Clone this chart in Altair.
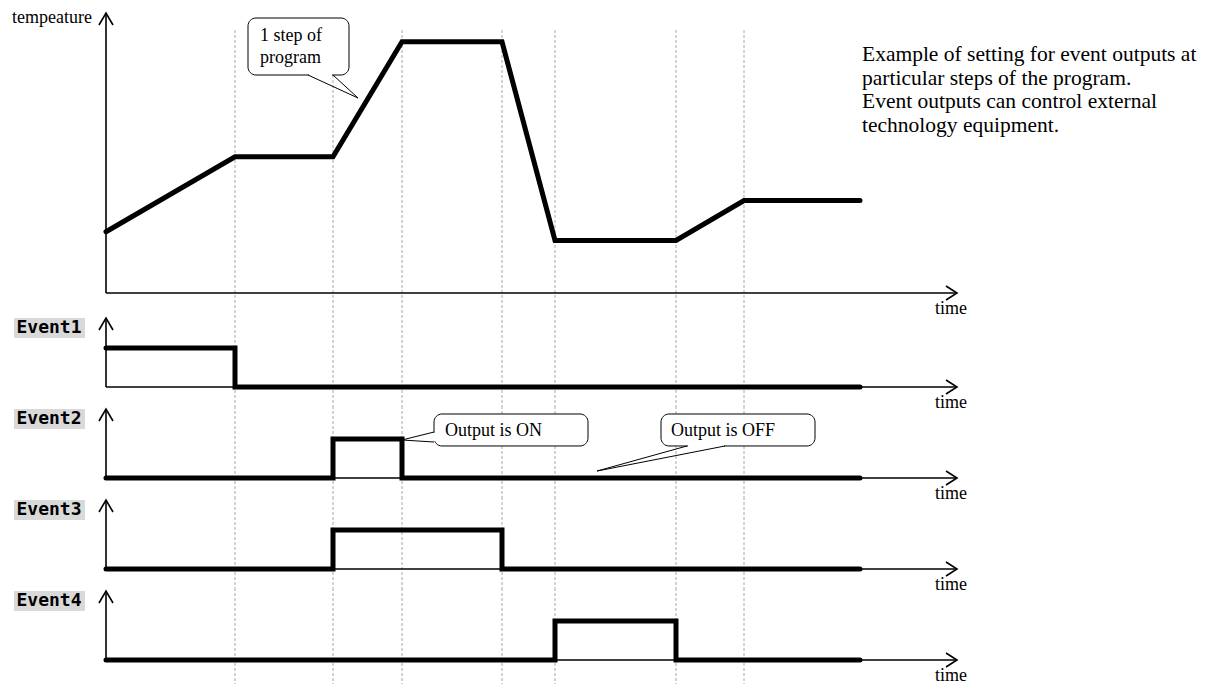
import altair as alt
import pandas as pd

# ---------------- data ----------------
step_times = [0, 12.9, 22.7, 29.6, 39.6, 44.9, 57.0, 63.8, 75.4]      # step boundaries (time units)
temperature = [24.5, 54.5, 54.5, 100.5, 100.5, 21, 21, 37, 37]        # program set-point at each boundary
event_names = ["Event1", "Event2", "Event3", "Event4"]
event_states = {
    "Event1": [1, 0, 0, 0, 0, 0, 0, 0],
    "Event2": [0, 0, 1, 0, 0, 0, 0, 0],
    "Event3": [0, 0, 1, 1, 0, 0, 0, 0],
    "Event4": [0, 0, 0, 0, 0, 1, 0, 0],
}
y_title = "tempeature"
x_title = "time"
note_lines = [
    "Example of setting for event outputs at",
    "particular steps of the program.",
    "Event outputs can control external",
    "technology equipment.",
]
callout_step = ["1 step of", "program"]
callout_on = "Output is ON"
callout_off = "Output is OFF"

# ---------------- layout ----------------
W = 1195
X_DOM = [-9.8, 109.7]
T_END = 85.1
MAIN_H = 307
MAIN_DOM = [-8.8, 114.0]
EV_H = 91
EV_DOM = [-0.487, 1.846]
EV_LAST_H = 96
EV_LAST_DOM = [-0.615, 1.846]
SERIF = "Liberation Serif"
MONO = "DejaVu Sans Mono"
GRID_C = "#a8a8a8"


def X(f):
    return alt.X(f, type="quantitative", scale=alt.Scale(domain=X_DOM, nice=False, zero=False), axis=None)


def Y(f, dom):
    return alt.Y(f, type="quantitative", scale=alt.Scale(domain=dom, nice=False, zero=False), axis=None)


def polylines(segs):
    rows = []
    for s, pts in enumerate(segs):
        for i, (t, y) in enumerate(pts):
            rows.append({"seg": s, "i": i, "t": t, "y": y})
    return pd.DataFrame(rows)


def line_layer(df, dom, width, color="black", dash=None, interp=None, cap="butt"):
    kw = dict(color=color, strokeWidth=width, strokeCap=cap)
    if dash:
        kw["strokeDash"] = dash
    if interp:
        kw["interpolate"] = interp
    return alt.Chart(df).mark_line(**kw).encode(
        x=X("t"), y=Y("y", dom), detail="seg:N", order="i:Q")


def text_layer(df, dom, size=18, font=SERIF, align="left", baseline="alphabetic", weight="normal"):
    return alt.Chart(df).mark_text(align=align, baseline=baseline, font=font, fontSize=size,
                                   fontWeight=weight, color="black").encode(
        x=X("t"), y=Y("y", dom), text="txt:N")


def box_layer(t1, t2, y1, y2, dom):
    df = pd.DataFrame({"t": [t1], "t2": [t2], "y": [y1], "y2": [y2]})
    return alt.Chart(df).mark_rect(cornerRadius=8, fill="white", stroke="black", strokeWidth=1).encode(
        x=X("t"), x2="t2", y=Y("y", dom), y2="y2")


def grid_layer(top, dom):
    df = pd.DataFrame({"t": step_times[1:-1], "y1": top, "y2": dom[0]})
    return alt.Chart(df).mark_rule(color=GRID_C, strokeDash=[3, 2], strokeWidth=1).encode(
        x=X("t"), y=Y("y1", dom), y2="y2")


# ---------------- main panel ----------------
dom = MAIN_DOM
axes_main = polylines([
    [(0, 0), (0, 112)],
    [(-0.7, 107.2), (0, 112), (0.7, 107.2)],
    [(0, 0), (T_END, 0)],
    [(T_END - 1.1, 2.8), (T_END, 0), (T_END - 1.1, -2.8)],
])
temp_df = pd.DataFrame({"seg": 0, "i": range(len(step_times)), "t": step_times, "y": temperature})
tail_step = polylines([[(20.2, 87.2), (25.2, 78.0), (22.7, 87.2)]])
cover_step = polylines([[(20.3, 87.2), (22.6, 87.2)]])
main = alt.layer(
    grid_layer(105.2, dom),
    line_layer(axes_main, dom, 1.6),
    line_layer(temp_df, dom, 5, cap="round"),
    box_layer(14.2, 24.3, 110.0, 87.2, dom),
    line_layer(cover_step, dom, 2.5, color="white"),
    line_layer(tail_step, dom, 1),
    text_layer(pd.DataFrame({"t": [15.4, 15.4], "y": [100.8, 92.0], "txt": callout_step}), dom),
    text_layer(pd.DataFrame({"t": [-1.4], "y": [108.0], "txt": [y_title]}), dom, align="right"),
    text_layer(pd.DataFrame({"t": [84.5], "y": [-8.4], "txt": [x_title]}), dom, align="center"),
    text_layer(pd.DataFrame({"t": [75.6] * 4, "y": [92.8, 83.4, 74.0, 64.6], "txt": note_lines}), dom, size=21.5),
).properties(width=W, height=MAIN_H)


# ---------------- event panels ----------------
def event_panel(k, name):
    last = k == len(event_names) - 1
    dom = EV_LAST_DOM if last else EV_DOM
    h = EV_LAST_H if last else EV_H
    states = event_states[name]
    sig = pd.DataFrame({"seg": 0, "i": range(len(step_times)), "t": step_times,
                        "y": states + [states[-1]]})
    axes = polylines([
        [(0, 0), (0, 1.769)],
        [(-0.7, 1.462), (0, 1.769), (0.7, 1.462)],
        [(0, 0), (T_END, 0)],
        [(T_END - 1.1, 0.179), (T_END, 0), (T_END - 1.1, -0.179)],
    ])
    bg = pd.DataFrame({"t": [-9.2], "t2": [-2.1], "y": [1.769], "y2": [1.256]})
    layers = [
        grid_layer(dom[1], dom),
        line_layer(axes, dom, 1.6),
        line_layer(sig, dom, 5, interp="step-after", cap="round"),
        alt.Chart(bg).mark_rect(fill="#d9d9d9").encode(x=X("t"), x2="t2", y=Y("y", dom), y2="y2"),
        text_layer(pd.DataFrame({"t": [-5.7], "y": [1.513], "txt": [name]}), dom, size=18, font=MONO,
                   align="center", baseline="middle", weight="bold"),
        text_layer(pd.DataFrame({"t": [84.5], "y": [-0.538], "txt": [x_title]}), dom, align="center"),
    ]
    if name == "Event2":
        layers += [
            box_layer(32.8, 48.2, 1.641, 0.821, dom),
            line_layer(polylines([[(32.8, 1.16), (32.8, 0.94)]]), dom, 2.5, color="white"),
            line_layer(polylines([[(32.8, 1.179), (29.6, 0.974), (32.8, 0.923)]]), dom, 1),
            text_layer(pd.DataFrame({"t": [33.9], "y": [1.077], "txt": [callout_on]}), dom),
            box_layer(55.5, 70.9, 1.641, 0.821, dom),
            line_layer(polylines([[(58.2, 0.821), (61.8, 0.821)]]), dom, 2.5, color="white"),
            line_layer(polylines([[(58.1, 0.821), (49.1, 0.179), (61.9, 0.821)]]), dom, 1),
            text_layer(pd.DataFrame({"t": [56.5], "y": [1.077], "txt": [callout_off]}), dom),
        ]
    return alt.layer(*layers).properties(width=W, height=h)


panels = [main] + [event_panel(k, n) for k, n in enumerate(event_names)]
chart = alt.vconcat(*panels, spacing=0, bounds="flush").resolve_scale(
    x="independent", y="independent").properties(padding=0).configure_view(strokeWidth=0)

chart.save("out.html", embed_options={"renderer": "svg", "actions": False})
